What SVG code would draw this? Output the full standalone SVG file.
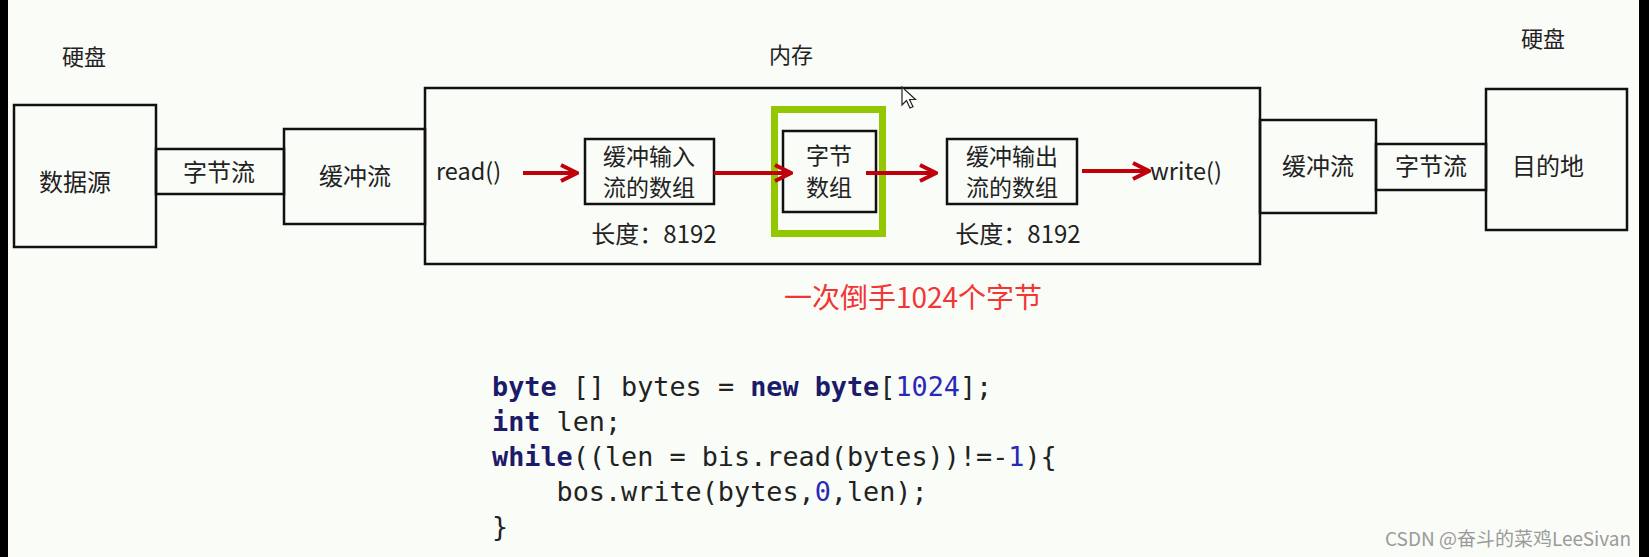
<svg xmlns="http://www.w3.org/2000/svg" width="1649" height="557" viewBox="0 0 1649 557">
<defs>
<style>
.bx{fill:none;stroke:#111;stroke-width:2.5}
.t{font-family:"Noto Sans CJK SC","Microsoft YaHei",sans-serif;fill:#222;text-anchor:middle}
.tl{font-family:"Noto Sans CJK SC","Microsoft YaHei",sans-serif;fill:#222}
.ar{stroke:#c0000a;stroke-width:4;fill:none}
.code{font-family:"DejaVu Sans Mono","Liberation Mono",monospace;font-size:26.8px;fill:#222;white-space:pre}
.kw{font-weight:bold;fill:#1b1b6a}
.num{fill:#2929b8}
</style>
<marker id="ah" viewBox="0 0 20 20" markerWidth="20" markerHeight="20" refX="18" refY="10" markerUnits="userSpaceOnUse" orient="auto">
<path d="M2,2 L18,10 L2,18" fill="none" stroke="#c0000a" stroke-width="4"/>
</marker>
</defs>
<rect x="0" y="0" width="1649" height="557" fill="#fafcf8"/>
<rect x="0" y="0" width="8" height="557" fill="#000"/>
<rect x="1639" y="0" width="10" height="557" fill="#000"/>

<g id="label-disk-left"><text class="t" x="84" y="65" font-size="22">硬盘</text></g>
<g id="label-memory"><text class="t" x="791" y="63" font-size="22">内存</text></g>
<g id="label-disk-right"><text class="t" x="1543" y="47" font-size="22">硬盘</text></g>

<g id="node-source"><rect class="bx" x="14" y="105" width="142" height="142"/><text class="t" x="75" y="191" font-size="24">数据源</text></g>
<g id="node-bytestream-left"><rect class="bx" x="156" y="149" width="128" height="45"/><text class="t" x="219" y="181" font-size="24">字节流</text></g>
<g id="node-buffer-left"><rect class="bx" x="284" y="129" width="141" height="95"/><text class="t" x="355" y="185" font-size="24">缓冲流</text></g>
<g id="node-memory"><rect class="bx" x="425" y="88" width="835" height="176"/></g>
<g id="node-read"><text class="tl" x="436" y="180" font-size="23.5">read()</text></g>
<g id="node-inbuf"><rect class="bx" x="585" y="139" width="129" height="65"/><text class="t" x="649" y="165" font-size="23">缓冲输入</text><text class="t" x="649" y="196" font-size="23">流的数组</text><text class="t" x="654" y="243" font-size="24">长度：8192</text></g>
<g id="node-bytearray"><rect x="774.5" y="109.5" width="108" height="124" fill="none" stroke="#93c700" stroke-width="7"/><rect class="bx" x="783" y="131" width="93" height="81"/><text class="t" x="829" y="164" font-size="23">字节</text><text class="t" x="829" y="196" font-size="23">数组</text></g>
<g id="node-outbuf"><rect class="bx" x="947" y="139" width="130" height="65"/><text class="t" x="1012" y="165" font-size="23">缓冲输出</text><text class="t" x="1012" y="196" font-size="23">流的数组</text><text class="t" x="1018" y="243" font-size="24">长度：8192</text></g>
<g id="node-write"><text class="tl" x="1150" y="180" font-size="23.5">write()</text></g>
<g id="node-buffer-right"><rect class="bx" x="1260" y="120" width="116" height="93"/><text class="t" x="1318" y="175" font-size="24">缓冲流</text></g>
<g id="node-bytestream-right"><rect class="bx" x="1376" y="144" width="110" height="46"/><text class="t" x="1431" y="175" font-size="24">字节流</text></g>
<g id="node-dest"><rect class="bx" x="1486" y="89" width="141" height="141"/><text class="t" x="1548" y="175" font-size="24">目的地</text></g>

<g id="connectors">
<line class="ar" x1="523" y1="173" x2="577" y2="173" marker-end="url(#ah)"/>
<line class="ar" x1="714" y1="173" x2="791" y2="173" marker-end="url(#ah)"/>
<line class="ar" x1="866" y1="173" x2="936" y2="173" marker-end="url(#ah)"/>
<line class="ar" x1="1082" y1="171" x2="1149" y2="171" marker-end="url(#ah)"/>
</g>

<g id="note"><text x="913" y="308" font-size="28" text-anchor="middle" fill="#f23535" font-family="'Noto Sans CJK SC','Microsoft YaHei',sans-serif">一次倒手1024个字节</text></g>

<g id="code">
<text class="code" x="492" y="396"><tspan class="kw">byte</tspan> [] bytes = <tspan class="kw">new</tspan> <tspan class="kw">byte</tspan>[<tspan class="num">1024</tspan>];</text>
<text class="code" x="492" y="431"><tspan class="kw">int</tspan> len;</text>
<text class="code" x="492" y="466"><tspan class="kw">while</tspan>((len = bis.read(bytes))!=-<tspan class="num">1</tspan>){</text>
<text class="code" x="492" y="501">    bos.write(bytes,<tspan class="num">0</tspan>,len);</text>
<text class="code" x="492" y="536">}</text>
</g>

<g id="cursor"><path d="M902,87 L902,105 L906.5,100.5 L910,108 L913,106.8 L909.5,99.5 L915.5,99.5 Z" fill="#fff" stroke="#222" stroke-width="1.2"/></g>

<g id="watermark"><text x="1508" y="546" font-size="19" text-anchor="middle" fill="#9a9a9a" font-family="'Noto Sans CJK SC',sans-serif">CSDN @奋斗的菜鸡LeeSivan</text></g>
</svg>
